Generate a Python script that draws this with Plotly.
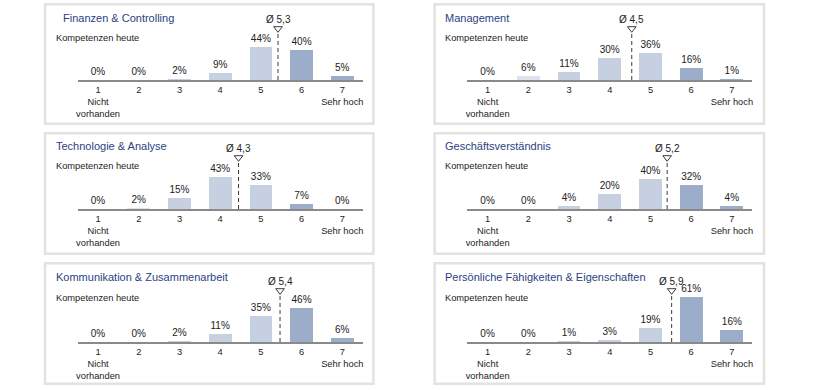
import plotly.graph_objects as go

# ---------------- data ----------------
titles = [
    "Finanzen & Controlling",
    "Management",
    "Technologie & Analyse",
    "Geschäftsverständnis",
    "Kommunikation & Zusammenarbeit",
    "Persönliche Fähigkeiten & Eigenschaften",
]
categories = [1, 2, 3, 4, 5, 6, 7]
tick_labels = ["1<br>Nicht<br>vorhanden", "2", "3", "4", "5", "6", "7<br>Sehr hoch"]
finanzen = [0, 0, 2, 9, 44, 40, 5]
management = [0, 6, 11, 30, 36, 16, 1]
technologie = [0, 2, 15, 43, 33, 7, 0]
geschaeft = [0, 0, 4, 20, 40, 32, 4]
kommunikation = [0, 0, 2, 11, 35, 46, 6]
persoenlich = [0, 0, 1, 3, 19, 61, 16]
series = [finanzen, management, technologie, geschaeft, kommunikation, persoenlich]
mean_labels = ["Ø 5,3", "Ø 4,5", "Ø 4,3", "Ø 5,2", "Ø 5,4", "Ø 5,9"]
# position of the mean marker on the 1..7 scale as drawn in the picture
mean_marker_pos = [5.42, 4.54, 4.45, 5.41, 5.47, 5.52]
subtitle = "Kompetenzen heute"

# ---------------- styling ----------------
W, H = 820, 390
FONT = "Liberation Sans, Arial, sans-serif"
bar_colors = ["#dde3ed", "#dde3ed", "#c6d0e1", "#c6d0e1", "#c6d0e1", "#9badc9", "#9badc9"]
title_color = "#2c3f82"
text_color = "#222222"
PX_PER_PCT = 0.74
Y_MAX = 92

col_panel = [(42, 374), (433, 766)]
col_plot = [(76, 362), (467, 753)]
row_panel = [(3, 125), (132, 255), (262, 385)]
row_base = [80, 209, 342]
row_title = [18, 146, 277]
row_sub = [38, 166, 298]
title_dx = [17, 10, 10, 10, 10, 10]


def px(x):
    return x / W


def py(y):
    return 1 - y / H


fig = go.Figure()
shapes = []
annotations = []

for i, vals in enumerate(series):
    r, c = divmod(i, 2)
    n = i + 1
    xa = "x" if n == 1 else f"x{n}"
    ya = "y" if n == 1 else f"y{n}"
    base = row_base[r]
    top = base - Y_MAX * PX_PER_PCT

    fig.add_trace(go.Bar(
        x=categories, y=vals, xaxis=xa, yaxis=ya,
        width=0.56, marker=dict(color=bar_colors, line=dict(width=0)),
        text=[f"{v}%" for v in vals], textposition="outside",
        constraintext="none", cliponaxis=False,
        textfont=dict(family=FONT, size=10, color=text_color),
        hoverinfo="skip",
    ))
    m = mean_marker_pos[i]
    fig.add_trace(go.Scatter(
        x=[m, m], y=[0, 65], xaxis=xa, yaxis=ya, mode="lines",
        line=dict(color="#3a3a3a", width=1, dash="4px,3px"), hoverinfo="skip",
    ))
    fig.add_trace(go.Scatter(
        x=[m], y=[69.5], xaxis=xa, yaxis=ya, mode="markers",
        marker=dict(symbol="triangle-down-open", size=7.5, color="#3a3a3a",
                    line=dict(width=1, color="#3a3a3a")),
        cliponaxis=False, hoverinfo="skip",
    ))
    annotations.append(dict(
        xref=xa, yref=ya, x=m, y=81.5, text=mean_labels[i], showarrow=False,
        xanchor="center", yanchor="middle",
        font=dict(family=FONT, size=10, color=text_color),
    ))

    x0, x1 = col_plot[c]
    fig.layout[("xaxis" if n == 1 else f"xaxis{n}")] = dict(
        domain=[px(x0), px(x1)], anchor=ya, range=[0.5, 7.5],
        tickmode="array", tickvals=categories, ticktext=tick_labels,
        showline=True, linecolor="#8a8a8a", linewidth=1.5,
        ticks="", showgrid=False, zeroline=False, fixedrange=True,
        tickfont=dict(family=FONT, size=9.3, color=text_color),
    )
    fig.layout[("yaxis" if n == 1 else f"yaxis{n}")] = dict(
        domain=[py(base), py(top)], anchor=xa, range=[0, Y_MAX],
        visible=False, fixedrange=True,
    )

    pl, pr = col_panel[c]
    pt, pb = row_panel[r]
    shapes.append(dict(
        type="rect", xref="paper", yref="paper",
        x0=px(pl + 1.2), x1=px(pr - 1.2), y0=py(pb - 1.2), y1=py(pt + 1.2),
        line=dict(color="#e2e2e2", width=2.5), fillcolor="rgba(0,0,0,0)", layer="below",
    ))
    annotations.append(dict(
        xref="paper", yref="paper", x=px(pl + title_dx[i]), y=py(row_title[r]),
        xanchor="left", yanchor="middle", showarrow=False, text=titles[i],
        font=dict(family=FONT, size=11, color=title_color),
    ))
    annotations.append(dict(
        xref="paper", yref="paper", x=px(pl + 10), y=py(row_sub[r]),
        xanchor="left", yanchor="middle", showarrow=False, text=subtitle,
        font=dict(family=FONT, size=9.3, color=text_color),
    ))

fig.update_layout(
    width=W, height=H, margin=dict(l=0, r=0, t=0, b=0),
    paper_bgcolor="white", plot_bgcolor="rgba(0,0,0,0)",
    showlegend=False, bargap=0, shapes=shapes, annotations=annotations,
    font=dict(family=FONT),
)

fig.write_html(
    "out.html",
    config={"displayModeBar": False, "staticPlot": True},
    post_script="document.body.style.margin='0';document.body.style.overflow='hidden';",
)
